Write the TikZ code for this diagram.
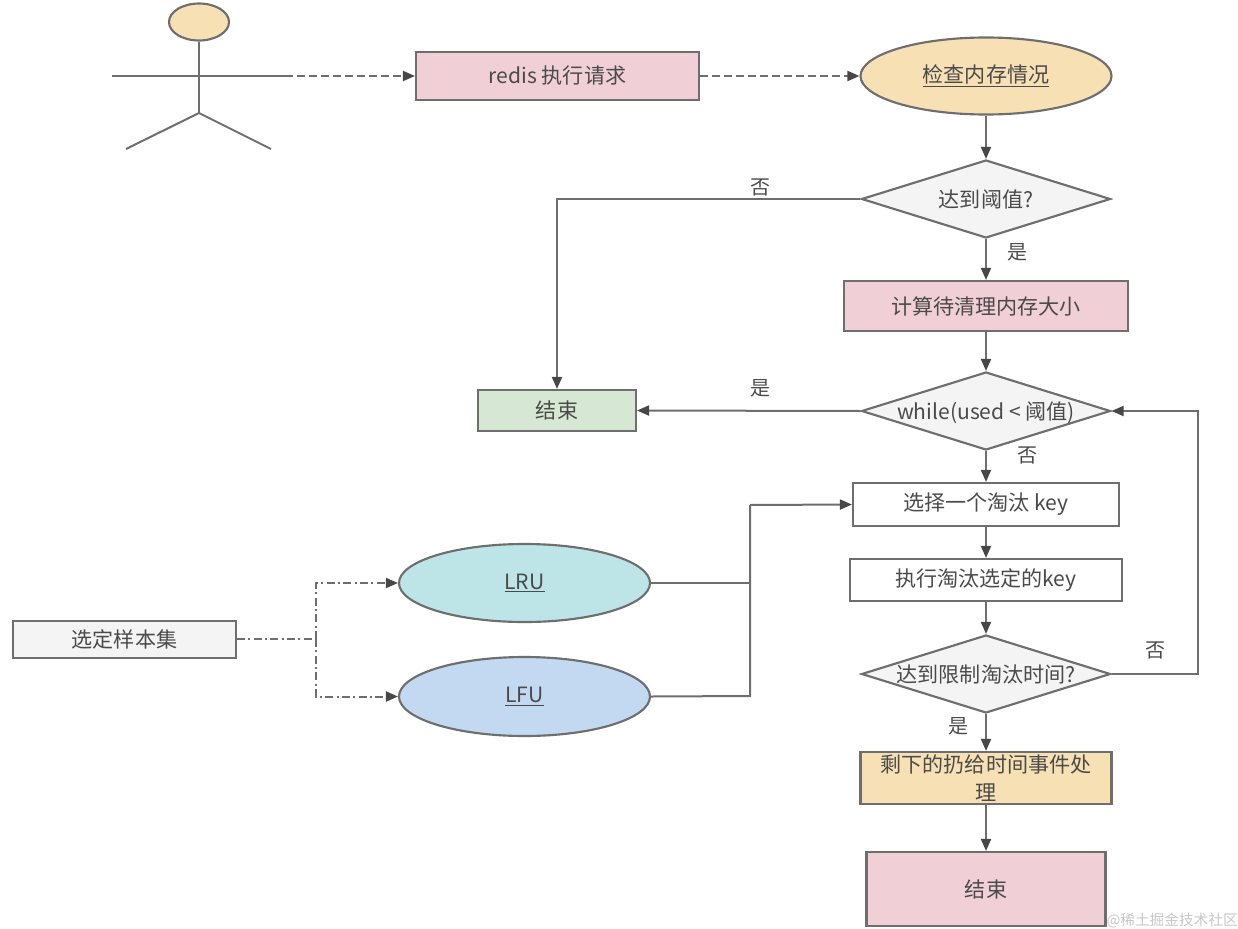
\documentclass[tikz,border=0pt]{standalone}
\usepackage{fontspec}
\setmainfont{Noto Sans CJK SC}
\usetikzlibrary{shapes.geometric,arrows.meta}
\definecolor{ln}{HTML}{6E6E6E}
\definecolor{tx}{HTML}{4A4A4A}
\definecolor{pinkf}{HTML}{F1CFD6}
\definecolor{sandf}{HTML}{F7E0B4}
\definecolor{greenf}{HTML}{D6E8D3}
\definecolor{cyanf}{HTML}{BDE5E8}
\definecolor{bluef}{HTML}{C3D9F1}
\definecolor{greyf}{HTML}{F4F4F4}
\newcommand{\pxu}{0.75pt}
\newcommand{\nobx}[1]{\smash{\raisebox{-0.38em}{\makebox[0pt]{#1}}}}
\tikzset{
  base/.style={draw=ln,line width=1.6pt,text=tx,inner sep=0pt,font=\fontsize{15.8}{18}\selectfont,align=center},
  rbox/.style args={#1x#2}{base,rectangle,minimum width=#1*\pxu,minimum height=#2*\pxu},
  ebox/.style args={#1x#2}{base,ellipse,minimum width=#1*\pxu,minimum height=#2*\pxu},
  dbox/.style={base,diamond,aspect=3.2,minimum width=249*\pxu,minimum height=78*\pxu,fill=greyf},
  link/.style={draw=ln,line width=1.5pt,-{Triangle[length=9pt,width=7.5pt,color=black!72]}},
  plain/.style={draw=ln,line width=1.5pt},
  dashlink/.style={link,dash pattern=on 6pt off 3pt},
  dotlink/.style={link,dash pattern=on 6pt off 2.5pt on 1.5pt off 2.5pt},
  dotplain/.style={plain,dash pattern=on 6pt off 2.5pt on 1.5pt off 2.5pt},
  lbl/.style={text=tx,inner sep=0pt,font=\fontsize{15}{17}\selectfont},
}
\begin{document}
\begin{tikzpicture}[x=\pxu,y=-\pxu]
\useasboundingbox (0,0) rectangle (1238,928);
% actor
\node[ebox=60x37,fill=sandf] (head) at (199,22) {};
\coordinate (hip) at (199,113);
\coordinate (legL) at (126,149);
\coordinate (legR) at (271,149);
\coordinate (armL) at (112,76);
\coordinate (armR) at (285,76);
\draw[plain] (head.south) -- (hip);
\draw[plain] (legL) -- (hip) -- (legR);
\draw[plain] (armL) -- (armR);
% nodes
\node[rbox=283x48,fill=pinkf] (redis) at (557.5,76) {redis 执行请求};
\node[ebox=251x77,fill=sandf] (check) at (986,76) {\underline{检查内存情况}};
\node[dbox] (d1) at (986,199) {\nobx{达到阈值?}};
\node[rbox=284x50,fill=pinkf] (calc) at (986,306) {计算待清理内存大小};
\node[rbox=158x41,fill=greenf] (end1) at (557,410.5) {结束};
\node[dbox] (loop) at (986,411) {\nobx{while(used < 阈值)}};
\node[rbox=266x43,fill=white] (sel) at (986,504.5) {选择一个淘汰 key};
\node[rbox=272x42,fill=white] (exec) at (986,580) {执行淘汰选定的key};
\node[dbox] (lim) at (986,674) {\nobx{达到限制淘汰时间?}};
\node[rbox=251x52,fill=sandf,font=\fontsize{15.8}{20}\selectfont] (rest) at (986,778) {\raisebox{1pt}{剩下的扔给时间事件处}\\理};
\node[rbox=239x74,fill=pinkf] (end2) at (986,889) {结束};
\node[ebox=251x78,fill=cyanf] (lru) at (524.5,583) {\underline{LRU}};
\node[ebox=251x79,fill=bluef] (lfu) at (524.5,696.5) {\underline{LFU}};
\node[rbox=223x37,fill=greyf] (samp) at (124.5,639.5) {选定样本集};
% connectors
\draw[dashlink] (armR) -- (redis.west);
\draw[dashlink] (redis.east) -- (check.west);
\draw[link] (check.south) -- (d1.north);
\draw[link] (d1.south) -- (calc.north);
\draw[link] (d1.west) -| (end1.north);
\draw[link] (calc.south) -- (loop.north);
\draw[link] (loop.west) -- (end1.east);
\draw[link] (loop.south) -- (sel.north);
\draw[link] (sel.south) -- (exec.north);
\draw[link] (exec.south) -- (lim.north);
\draw[link] (lim.south) -- (rest.north);
\draw[link] (rest.south) -- (end2.north);
\coordinate (rr) at (1198,674);
\draw[link] (lim.east) -- (rr) |- (loop.east);
\coordinate (mm) at (750,505);
\draw[plain] (lru.east) -- (750,583) -- (mm);
\draw[plain] (lfu.east) -- (750,696) -- (mm);
\draw[link] (mm) -- (sel.west);
\coordinate (br) at (316,639);
\draw[dotplain] (samp.east |- br) -- (br);
\draw[dotlink] (br) |- (lru.west);
\draw[dotlink] (br) |- (lfu.west);
% labels
\node[lbl] (l1) at (760,187) {否};
\node[lbl] (l2) at (1017,252) {是};
\node[lbl] (l3) at (760,388) {是};
\node[lbl] (l4) at (1027,455) {否};
\node[lbl] (l5) at (1155,650) {否};
\node[lbl] (l6) at (958,726) {是};
\node[text=black!22,inner sep=0pt,anchor=east,font=\fontsize{11}{13}\selectfont] (wm) at (1238,921) {@稀土掘金技术社区};
\end{tikzpicture}
\end{document}
